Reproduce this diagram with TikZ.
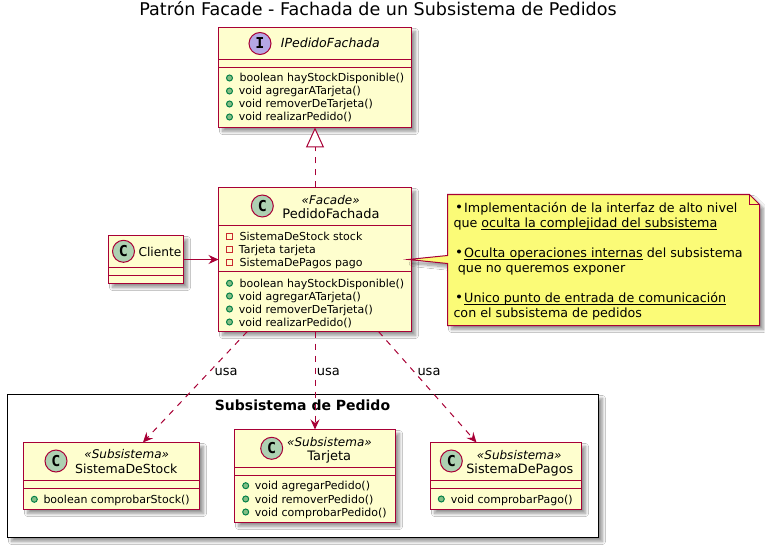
\documentclass[tikz,border=0pt]{standalone}
\usepackage{fontspec}
\setmainfont{DejaVu Sans}
\newfontfamily\letterfont{DejaVu Sans Mono}
\usetikzlibrary{arrows.meta,shadows.blur,calc}
\newcommand\noteul[1]{{\setbox0\hbox{#1}\rlap{\rule[-2.4pt]{\wd0}{0.9pt}}\box0}}
\definecolor{umlline}{HTML}{A80036}
\definecolor{umlfill}{HTML}{FEFECE}
\definecolor{notefill}{HTML}{FBFB77}
\definecolor{classcirc}{HTML}{ADD1B2}
\definecolor{ifacecirc}{HTML}{B4A7E5}
\definecolor{pubfill}{HTML}{84BE84}
\definecolor{publine}{HTML}{038048}
\definecolor{privline}{HTML}{C82930}
\tikzset{
  softshadow/.style={blur shadow={shadow xshift=4pt,shadow yshift=-4pt,shadow blur steps=10,shadow blur radius=3pt,shadow opacity=42}},
  classbox/.style={draw=umlline,line width=1.5pt,fill=umlfill,softshadow,inner sep=0pt,outer sep=0pt,anchor=north west},
  pkgbox/.style={draw=black,line width=1.5pt,fill=white,softshadow,inner sep=0pt,outer sep=0pt,anchor=north west},
  divider/.style={draw=umlline,line width=1.5pt},
  badge/.style={circle,draw=umlline,line width=1pt,minimum size=22pt,inner sep=0pt,font=\letterfont\fontsize{15}{15}\selectfont\bfseries},
  cbadge/.style={badge,fill=classcirc},
  ibadge/.style={badge,fill=ifacecirc},
  pubmark/.style={circle,draw=publine,fill=pubfill,line width=1pt,minimum size=6pt,inner sep=0pt},
  privmark/.style={rectangle,draw=privline,line width=1pt,minimum size=6pt,inner sep=0pt},
  member/.style={anchor=base west,inner sep=0pt,font=\fontsize{11}{11}\selectfont},
  stereo/.style={anchor=base,inner sep=0pt,font=\fontsize{12}{12}\selectfont\itshape},
  cname/.style={anchor=base,inner sep=0pt,font=\fontsize{#1}{#1}\selectfont},
  notetext/.style={anchor=base west,inner sep=0pt,font=\fontsize{12.7}{13}\selectfont},
  edgelabel/.style={anchor=base west,inner sep=0pt,font=\fontsize{13}{13}\selectfont},
  assoc/.style={draw=umlline,line width=1pt,-{Stealth[length=10pt,width=9pt,inset=3.5pt]}},
  uses/.style={assoc,dash pattern=on 6pt off 6pt},
  realizes/.style={draw=umlline,line width=1pt,dash pattern=on 6pt off 6pt,-{Triangle[open,length=20pt,width=18pt,fill=white]}},
  bulletdot/.style={circle,fill=black,minimum size=4pt,inner sep=0pt}
}
\begin{document}
\begin{tikzpicture}[x=1pt,y=-1pt]
\useasboundingbox[fill=white] (0,0) rectangle (765,548);
\node[anchor=base,inner sep=0pt,font=\fontsize{17.55}{18}\selectfont] (title) at (378,16) {Patrón Facade - Fachada de un Subsistema de Pedidos};
% package
\node[pkgbox,minimum width=591pt,minimum height=143pt] (pkg) at (7.5,394.5) {};
\node[anchor=base,inner sep=0pt,font=\fontsize{14}{14}\selectfont\bfseries] (pkgtitle) at (302.5,410) {Subsistema de Pedido};
% interface
\node[classbox,minimum width=193pt,minimum height=100pt] (ipf) at (218.5,27.5) {};
\draw[divider] (ipf.west |- 0,59.5) -- (ipf.east |- 0,59.5);
\draw[divider] (ipf.west |- 0,67.5) -- (ipf.east |- 0,67.5);
\node[ibadge] (ipfc) at (260,43.5) {I};
\node[anchor=base west,inner sep=0pt,font=\fontsize{12.5}{13}\selectfont\itshape] (ipfn) at (280.7,48) {IPedidoFachada};
\node[pubmark] (ipf1) at (229.5,78) {}; \node[member] (ipft1) at (239.5,82) {boolean hayStockDisponible()};
\node[pubmark] (ipf2) at (229.5,91) {}; \node[member] (ipft2) at (238.7,95) {void agregarATarjeta()};
\node[pubmark] (ipf3) at (229.5,104) {}; \node[member] (ipft3) at (238.7,108) {void removerDeTarjeta()};
\node[pubmark] (ipf4) at (229.5,117) {}; \node[member] (ipft4) at (238.7,121) {void realizarPedido()};
% facade
\node[classbox,minimum width=193pt,minimum height=144pt] (pf) at (218.5,187.5) {};
\draw[divider] (pf.west |- 0,225.5) -- (pf.east |- 0,225.5);
\draw[divider] (pf.west |- 0,271.5) -- (pf.east |- 0,271.5);
\node[cbadge] (pfc) at (262.3,206) {C};
\node[stereo] (pfs) at (330.7,204.5) {«Facade»};
\node[cname=13] (pfn) at (331,218) {PedidoFachada};
\node[privmark] (pfa1) at (229.5,236) {}; \node[member] (pfat1) at (239.5,240) {SistemaDeStock stock};
\node[privmark] (pfa2) at (229.5,249.3) {}; \node[member] (pfat2) at (238.7,253) {Tarjeta tarjeta};
\node[privmark] (pfa3) at (229.5,262.3) {}; \node[member] (pfat3) at (239.5,266) {SistemaDePagos pago};
\node[pubmark] (pf1) at (229.5,283.3) {}; \node[member] (pft1) at (239.5,287.3) {boolean hayStockDisponible()};
\node[pubmark] (pf2) at (229.5,296) {}; \node[member] (pft2) at (238.7,300) {void agregarATarjeta()};
\node[pubmark] (pf3) at (229.5,309) {}; \node[member] (pft3) at (238.7,313) {void removerDeTarjeta()};
\node[pubmark] (pf4) at (229.5,322) {}; \node[member] (pft4) at (238.7,326) {void realizarPedido()};
% client
\node[classbox,minimum width=75pt,minimum height=48pt] (cli) at (108.5,235.5) {};
\draw[divider] (cli.west |- 0,267.5) -- (cli.east |- 0,267.5);
\draw[divider] (cli.west |- 0,275.5) -- (cli.east |- 0,275.5);
\node[cbadge] (clic) at (123.5,251.3) {C};
\node[anchor=base west,inner sep=0pt,font=\fontsize{12.2}{13}\selectfont] (clin) at (138.3,256.3) {Cliente};
% stock
\node[classbox,minimum width=176pt,minimum height=67pt] (stock) at (23.5,442.5) {};
\draw[divider] (stock.west |- 0,480.5) -- (stock.east |- 0,480.5);
\draw[divider] (stock.west |- 0,488.5) -- (stock.east |- 0,488.5);
\node[cbadge] (stockc) at (56,461) {C};
\node[stereo] (stocks) at (126.7,458.5) {«Subsistema»};
\node[cname=12.5] (stockn) at (126.3,473) {SistemaDeStock};
\node[pubmark] (stock1) at (34.3,499.3) {}; \node[member] (stockt1) at (43.3,503.3) {boolean comprobarStock()};
% tarjeta
\node[classbox,minimum width=161pt,minimum height=93pt] (tar) at (234.5,429.5) {};
\draw[divider] (tar.west |- 0,467.5) -- (tar.east |- 0,467.5);
\draw[divider] (tar.west |- 0,475.5) -- (tar.east |- 0,475.5);
\node[cbadge] (tarc) at (271.7,448.3) {C};
\node[stereo] (tars) at (329.5,446) {«Subsistema»};
\node[cname=13] (tarn) at (329.3,460.5) {Tarjeta};
\node[pubmark] (tar1) at (245.7,485.7) {}; \node[member] (tart1) at (254.7,489.7) {void agregarPedido()};
\node[pubmark] (tar2) at (245.7,499) {}; \node[member] (tart2) at (254.7,503) {void removerPedido()};
\node[pubmark] (tar3) at (245.7,512) {}; \node[member] (tart3) at (254.7,516) {void comprobarPedido()};
% pagos
\node[classbox,minimum width=151pt,minimum height=67pt] (pag) at (430.5,442.5) {};
\draw[divider] (pag.west |- 0,480.5) -- (pag.east |- 0,480.5);
\draw[divider] (pag.west |- 0,488.5) -- (pag.east |- 0,488.5);
\node[cbadge] (pagc) at (451.3,461) {C};
\node[stereo] (pags) at (519.3,459) {«Subsistema»};
\node[cname=12.8] (pagn) at (519.8,473) {SistemaDePagos};
\node[pubmark] (pag1) at (441.3,499) {}; \node[member] (pagt1) at (450.7,503) {void comprobarPago()};
% note
\coordinate (notetip) at (408.3,259.5);
\draw[draw=umlline,line width=1pt,fill=notefill,softshadow] (447.5,194.5) -- (749.5,194.5) -- (759.5,204.5) -- (759.5,325.5) -- (447.5,325.5) -- (447.5,263.5) -- (notetip) -- (447.5,255.5) -- cycle;
\draw[draw=umlline,line width=1pt] (749.5,194.5) -- (749.5,204.5) -- (759.5,204.5);
\node[bulletdot] (nb1) at (459,206.5) {}; \node[notetext] (n1) at (464,212.5) {Implementación de la interfaz de alto nivel};
\node[notetext] (n2) at (453.3,227.5) {que \noteul{oculta la complejidad del subsistema}};
\node[bulletdot] (nb2) at (459,251.5) {}; \node[notetext] (n3) at (464,257.5) {\noteul{Oculta operaciones internas} del subsistema};
\node[notetext] (n4) at (457.7,272.5) {que no queremos exponer};
\node[bulletdot] (nb3) at (459,296.5) {}; \node[notetext] (n5) at (464,302.5) {\noteul{Unico punto de entrada de comunicación}};
\node[notetext] (n6) at (453.3,317.5) {con el subsistema de pedidos};
% connectors
\draw[realizes] (pf) -- (ipf);
\draw[assoc] (cli) -- (pf);
\draw[uses] (pf) -- (stock);
\draw[uses] (pf) -- (tar);
\draw[uses] (pf) -- (pag);
\node[edgelabel] (u1) at (214.5,375) {usa};
\node[edgelabel] (u2) at (316.7,375) {usa};
\node[edgelabel] (u3) at (417.3,375) {usa};
\end{tikzpicture}
\end{document}
